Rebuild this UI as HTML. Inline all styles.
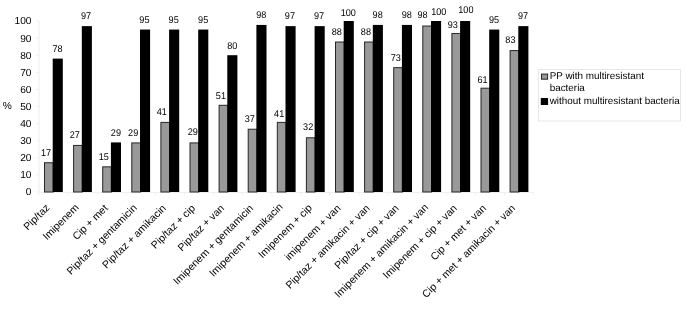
<!DOCTYPE html><html><head><meta charset="utf-8"><style>html,body{margin:0;padding:0;background:#fff;}svg{display:block;will-change:transform;}text{font-family:"Liberation Sans",sans-serif;fill:#000;text-rendering:geometricPrecision;}.xl{}</style></head><body>
<svg width="685" height="309" viewBox="0 0 685 309">
<line x1="39.1" y1="21.0" x2="39.1" y2="192.5" stroke="#efefef" stroke-width="1"/>
<line x1="36.1" y1="192.00" x2="39.1" y2="192.00" stroke="#efefef" stroke-width="1"/>
<text x="31.5" y="195.40" text-anchor="end" font-size="10.2">0</text>
<line x1="36.1" y1="174.90" x2="39.1" y2="174.90" stroke="#efefef" stroke-width="1"/>
<text x="31.5" y="178.30" text-anchor="end" font-size="10.2">10</text>
<line x1="36.1" y1="157.80" x2="39.1" y2="157.80" stroke="#efefef" stroke-width="1"/>
<text x="31.5" y="161.20" text-anchor="end" font-size="10.2">20</text>
<line x1="36.1" y1="140.70" x2="39.1" y2="140.70" stroke="#efefef" stroke-width="1"/>
<text x="31.5" y="144.10" text-anchor="end" font-size="10.2">30</text>
<line x1="36.1" y1="123.60" x2="39.1" y2="123.60" stroke="#efefef" stroke-width="1"/>
<text x="31.5" y="127.00" text-anchor="end" font-size="10.2">40</text>
<line x1="36.1" y1="106.50" x2="39.1" y2="106.50" stroke="#efefef" stroke-width="1"/>
<text x="31.5" y="109.90" text-anchor="end" font-size="10.2">50</text>
<line x1="36.1" y1="89.40" x2="39.1" y2="89.40" stroke="#efefef" stroke-width="1"/>
<text x="31.5" y="92.80" text-anchor="end" font-size="10.2">60</text>
<line x1="36.1" y1="72.30" x2="39.1" y2="72.30" stroke="#efefef" stroke-width="1"/>
<text x="31.5" y="75.70" text-anchor="end" font-size="10.2">70</text>
<line x1="36.1" y1="55.20" x2="39.1" y2="55.20" stroke="#efefef" stroke-width="1"/>
<text x="31.5" y="58.60" text-anchor="end" font-size="10.2">80</text>
<line x1="36.1" y1="38.10" x2="39.1" y2="38.10" stroke="#efefef" stroke-width="1"/>
<text x="31.5" y="41.50" text-anchor="end" font-size="10.2">90</text>
<line x1="36.1" y1="21.00" x2="39.1" y2="21.00" stroke="#efefef" stroke-width="1"/>
<text x="31.5" y="24.40" text-anchor="end" font-size="10.2">100</text>
<line x1="39.1" y1="192.5" x2="533.80" y2="192.5" stroke="#efefef" stroke-width="1"/>
<line x1="39.10" y1="192.5" x2="39.10" y2="195.5" stroke="#efefef" stroke-width="1"/>
<line x1="68.20" y1="192.5" x2="68.20" y2="195.5" stroke="#efefef" stroke-width="1"/>
<line x1="97.30" y1="192.5" x2="97.30" y2="195.5" stroke="#efefef" stroke-width="1"/>
<line x1="126.40" y1="192.5" x2="126.40" y2="195.5" stroke="#efefef" stroke-width="1"/>
<line x1="155.50" y1="192.5" x2="155.50" y2="195.5" stroke="#efefef" stroke-width="1"/>
<line x1="184.60" y1="192.5" x2="184.60" y2="195.5" stroke="#efefef" stroke-width="1"/>
<line x1="213.70" y1="192.5" x2="213.70" y2="195.5" stroke="#efefef" stroke-width="1"/>
<line x1="242.80" y1="192.5" x2="242.80" y2="195.5" stroke="#efefef" stroke-width="1"/>
<line x1="271.90" y1="192.5" x2="271.90" y2="195.5" stroke="#efefef" stroke-width="1"/>
<line x1="301.00" y1="192.5" x2="301.00" y2="195.5" stroke="#efefef" stroke-width="1"/>
<line x1="330.10" y1="192.5" x2="330.10" y2="195.5" stroke="#efefef" stroke-width="1"/>
<line x1="359.20" y1="192.5" x2="359.20" y2="195.5" stroke="#efefef" stroke-width="1"/>
<line x1="388.30" y1="192.5" x2="388.30" y2="195.5" stroke="#efefef" stroke-width="1"/>
<line x1="417.40" y1="192.5" x2="417.40" y2="195.5" stroke="#efefef" stroke-width="1"/>
<line x1="446.50" y1="192.5" x2="446.50" y2="195.5" stroke="#efefef" stroke-width="1"/>
<line x1="475.60" y1="192.5" x2="475.60" y2="195.5" stroke="#efefef" stroke-width="1"/>
<line x1="504.70" y1="192.5" x2="504.70" y2="195.5" stroke="#efefef" stroke-width="1"/>
<line x1="533.80" y1="192.5" x2="533.80" y2="195.5" stroke="#efefef" stroke-width="1"/>
<text x="2.8" y="108.6" font-size="10.2">%</text>
<rect x="44.50" y="162.73" width="8.70" height="29.27" fill="#999999" stroke="#262626" stroke-width="1"/>
<rect x="52.70" y="58.62" width="10.10" height="133.38" fill="#000"/>
<text x="0" y="0" text-anchor="middle" font-size="9.8" transform="translate(46.08,155.63) scale(0.93,1)">17</text>
<text x="0" y="0" text-anchor="middle" font-size="9.8" transform="translate(57.45,51.82) scale(0.93,1)">78</text>
<text class="xl" x="0" y="0" text-anchor="end" font-size="10.45" transform="translate(50.25,208.30) rotate(-45)">Pip/taz</text>
<rect x="73.60" y="145.43" width="8.70" height="46.57" fill="#999999" stroke="#262626" stroke-width="1"/>
<rect x="81.80" y="26.13" width="10.10" height="165.87" fill="#000"/>
<text x="0" y="0" text-anchor="middle" font-size="9.8" transform="translate(74.83,138.43) scale(0.93,1)">27</text>
<text x="0" y="0" text-anchor="middle" font-size="9.8" transform="translate(86.08,19.33) scale(0.93,1)">97</text>
<text class="xl" x="0" y="0" text-anchor="end" font-size="10.45" transform="translate(79.35,208.20) rotate(-45)">Imipenem</text>
<rect x="102.70" y="166.85" width="8.70" height="25.15" fill="#999999" stroke="#262626" stroke-width="1"/>
<rect x="110.90" y="142.41" width="10.10" height="49.59" fill="#000"/>
<text x="0" y="0" text-anchor="middle" font-size="9.8" transform="translate(103.73,159.85) scale(0.93,1)">15</text>
<text x="0" y="0" text-anchor="middle" font-size="9.8" transform="translate(115.91,135.61) scale(0.93,1)">29</text>
<text class="xl" x="0" y="0" text-anchor="end" font-size="10.45" transform="translate(108.45,208.80) rotate(-45)">Cip + met</text>
<rect x="131.80" y="142.91" width="8.70" height="49.09" fill="#999999" stroke="#262626" stroke-width="1"/>
<rect x="140.00" y="29.55" width="10.10" height="162.45" fill="#000"/>
<text x="0" y="0" text-anchor="middle" font-size="9.8" transform="translate(133.13,135.61) scale(0.93,1)">29</text>
<text x="0" y="0" text-anchor="middle" font-size="9.8" transform="translate(144.39,22.75) scale(0.93,1)">95</text>
<text class="xl" x="0" y="0" text-anchor="end" font-size="10.45" transform="translate(137.55,208.50) rotate(-45)">Pip/taz + gentamicin</text>
<rect x="160.90" y="122.39" width="8.70" height="69.61" fill="#999999" stroke="#262626" stroke-width="1"/>
<rect x="169.10" y="29.55" width="10.10" height="162.45" fill="#000"/>
<text x="0" y="0" text-anchor="middle" font-size="9.8" transform="translate(161.83,115.09) scale(0.93,1)">41</text>
<text x="0" y="0" text-anchor="middle" font-size="9.8" transform="translate(173.67,22.75) scale(0.93,1)">95</text>
<text class="xl" x="0" y="0" text-anchor="end" font-size="10.45" transform="translate(166.65,208.80) rotate(-45)">Pip/taz + amikacin</text>
<rect x="190.00" y="142.91" width="8.70" height="49.09" fill="#999999" stroke="#262626" stroke-width="1"/>
<rect x="198.20" y="29.55" width="10.10" height="162.45" fill="#000"/>
<text x="0" y="0" text-anchor="middle" font-size="9.8" transform="translate(192.82,134.81) scale(0.93,1)">29</text>
<text x="0" y="0" text-anchor="middle" font-size="9.8" transform="translate(203.15,22.75) scale(0.93,1)">95</text>
<text class="xl" x="0" y="0" text-anchor="end" font-size="10.45" transform="translate(195.75,208.80) rotate(-45)">Pip/taz + cip</text>
<rect x="219.10" y="105.29" width="8.70" height="86.71" fill="#999999" stroke="#262626" stroke-width="1"/>
<rect x="227.30" y="55.20" width="10.10" height="136.80" fill="#000"/>
<text x="0" y="0" text-anchor="middle" font-size="9.8" transform="translate(220.91,98.99) scale(0.93,1)">51</text>
<text x="0" y="0" text-anchor="middle" font-size="9.8" transform="translate(232.23,48.90) scale(0.93,1)">80</text>
<text class="xl" x="0" y="0" text-anchor="end" font-size="10.45" transform="translate(224.85,208.80) rotate(-45)">Pip/taz + van</text>
<rect x="248.20" y="129.23" width="8.70" height="62.77" fill="#999999" stroke="#262626" stroke-width="1"/>
<rect x="256.40" y="24.92" width="10.10" height="167.08" fill="#000"/>
<text x="0" y="0" text-anchor="middle" font-size="9.8" transform="translate(249.73,121.93) scale(0.93,1)">37</text>
<text x="0" y="0" text-anchor="middle" font-size="9.8" transform="translate(261.31,17.82) scale(0.93,1)">98</text>
<text class="xl" x="0" y="0" text-anchor="end" font-size="10.45" transform="translate(253.95,208.80) rotate(-45)">Imipenem + gentamicin</text>
<rect x="277.30" y="122.39" width="8.70" height="69.61" fill="#999999" stroke="#262626" stroke-width="1"/>
<rect x="285.50" y="26.13" width="10.10" height="165.87" fill="#000"/>
<text x="0" y="0" text-anchor="middle" font-size="9.8" transform="translate(279.13,117.09) scale(0.93,1)">41</text>
<text x="0" y="0" text-anchor="middle" font-size="9.8" transform="translate(289.89,19.33) scale(0.93,1)">97</text>
<text class="xl" x="0" y="0" text-anchor="end" font-size="10.45" transform="translate(283.45,207.40) rotate(-45)">Imipenem + amikacin</text>
<rect x="306.40" y="137.78" width="8.70" height="54.22" fill="#999999" stroke="#262626" stroke-width="1"/>
<rect x="314.60" y="26.13" width="10.10" height="165.87" fill="#000"/>
<text x="0" y="0" text-anchor="middle" font-size="9.8" transform="translate(308.13,129.78) scale(0.93,1)">32</text>
<text x="0" y="0" text-anchor="middle" font-size="9.8" transform="translate(318.97,19.33) scale(0.93,1)">97</text>
<text class="xl" x="0" y="0" text-anchor="end" font-size="10.45" transform="translate(312.65,208.50) rotate(-45)">Imipenem + cip</text>
<rect x="335.50" y="42.02" width="8.70" height="149.98" fill="#999999" stroke="#262626" stroke-width="1"/>
<rect x="343.70" y="21.00" width="10.10" height="171.00" fill="#000"/>
<text x="0" y="0" text-anchor="middle" font-size="9.8" transform="translate(336.78,34.72) scale(0.93,1)">88</text>
<text x="0" y="0" text-anchor="middle" font-size="9.8" transform="translate(348.25,15.90) scale(0.93,1)">100</text>
<text class="xl" x="0" y="0" text-anchor="end" font-size="10.45" transform="translate(341.25,208.80) rotate(-45)">imipenem + van</text>
<rect x="364.60" y="42.02" width="8.70" height="149.98" fill="#999999" stroke="#262626" stroke-width="1"/>
<rect x="372.80" y="24.92" width="10.10" height="167.08" fill="#000"/>
<text x="0" y="0" text-anchor="middle" font-size="9.8" transform="translate(365.91,35.12) scale(0.93,1)">88</text>
<text x="0" y="0" text-anchor="middle" font-size="9.8" transform="translate(377.63,17.62) scale(0.93,1)">98</text>
<text class="xl" x="0" y="0" text-anchor="end" font-size="10.45" transform="translate(370.35,208.80) rotate(-45)">Pip/taz + amikacin + van</text>
<rect x="393.70" y="67.67" width="8.70" height="124.33" fill="#999999" stroke="#262626" stroke-width="1"/>
<rect x="401.90" y="24.92" width="10.10" height="167.08" fill="#000"/>
<text x="0" y="0" text-anchor="middle" font-size="9.8" transform="translate(395.82,61.37) scale(0.93,1)">73</text>
<text x="0" y="0" text-anchor="middle" font-size="9.8" transform="translate(406.71,17.62) scale(0.93,1)">98</text>
<text class="xl" x="0" y="0" text-anchor="end" font-size="10.45" transform="translate(399.45,208.80) rotate(-45)">Pip/taz + cip + van</text>
<rect x="422.80" y="26.02" width="8.70" height="165.98" fill="#999999" stroke="#262626" stroke-width="1"/>
<rect x="431.00" y="21.00" width="10.10" height="171.00" fill="#000"/>
<text x="0" y="0" text-anchor="middle" font-size="9.8" transform="translate(422.47,18.12) scale(0.93,1)">98</text>
<text x="0" y="0" text-anchor="middle" font-size="9.8" transform="translate(438.79,14.70) scale(0.93,1)">100</text>
<text class="xl" x="0" y="0" text-anchor="end" font-size="10.45" transform="translate(428.95,208.00) rotate(-45)">Imipenem + amikacin + van</text>
<rect x="451.90" y="33.47" width="8.70" height="158.53" fill="#999999" stroke="#262626" stroke-width="1"/>
<rect x="460.10" y="21.00" width="10.10" height="171.00" fill="#000"/>
<text x="0" y="0" text-anchor="middle" font-size="9.8" transform="translate(452.82,27.57) scale(0.93,1)">93</text>
<text x="0" y="0" text-anchor="middle" font-size="9.8" transform="translate(465.87,12.70) scale(0.93,1)">100</text>
<text class="xl" x="0" y="0" text-anchor="end" font-size="10.45" transform="translate(457.65,208.80) rotate(-45)">Imipenem + cip + van</text>
<rect x="481.00" y="88.19" width="8.70" height="103.81" fill="#999999" stroke="#262626" stroke-width="1"/>
<rect x="489.20" y="29.55" width="10.10" height="162.45" fill="#000"/>
<text x="0" y="0" text-anchor="middle" font-size="9.8" transform="translate(482.53,83.19) scale(0.93,1)">61</text>
<text x="0" y="0" text-anchor="middle" font-size="9.8" transform="translate(493.95,22.75) scale(0.93,1)">95</text>
<text class="xl" x="0" y="0" text-anchor="end" font-size="10.45" transform="translate(486.75,208.80) rotate(-45)">Cip + met + van</text>
<rect x="510.10" y="50.57" width="8.70" height="141.43" fill="#999999" stroke="#262626" stroke-width="1"/>
<rect x="518.30" y="26.13" width="10.10" height="165.87" fill="#000"/>
<text x="0" y="0" text-anchor="middle" font-size="9.8" transform="translate(510.43,43.27) scale(0.93,1)">83</text>
<text x="0" y="0" text-anchor="middle" font-size="9.8" transform="translate(523.03,19.33) scale(0.93,1)">97</text>
<text class="xl" x="0" y="0" text-anchor="end" font-size="10.45" transform="translate(515.85,208.80) rotate(-45)">Cip + met + amikacin + van</text>
<rect x="538.5" y="69.5" width="142" height="51.5" fill="#fff" stroke="#e6e6e6" stroke-width="1"/>
<rect x="541.5" y="74.1" width="6.1" height="5.1" fill="#999999" stroke="#262626" stroke-width="1"/>
<text x="549.7" y="78.6" font-size="9.9">PP with multiresistant</text>
<text x="549.7" y="90.6" font-size="9.9">bacteria</text>
<rect x="540.8" y="98" width="7.3" height="7" fill="#000"/>
<text x="549.7" y="103.5" font-size="9.9">without multiresistant bacteria</text>
</svg></body></html>
